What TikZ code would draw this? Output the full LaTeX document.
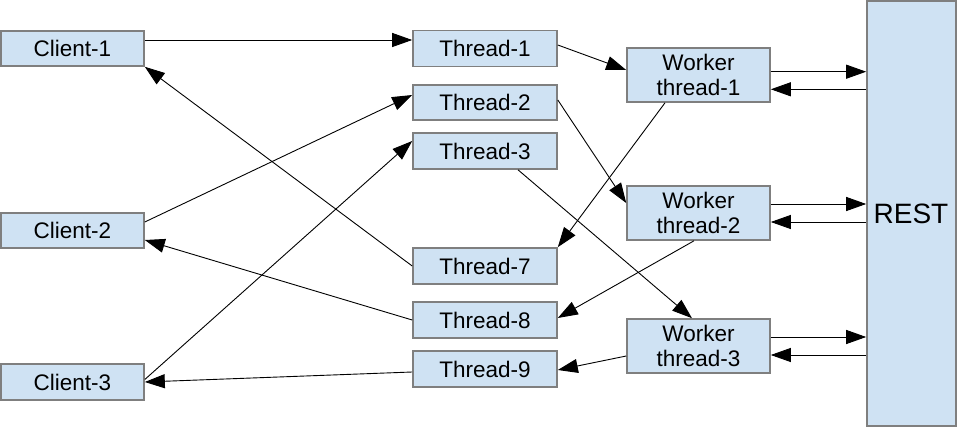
\documentclass[tikz,border=0pt]{standalone}
\usepackage{fontspec}
\setmainfont{Liberation Sans}
\usetikzlibrary{arrows.meta}
\definecolor{boxfill}{HTML}{CFE2F3}
\definecolor{boxline}{HTML}{7F7F7F}
\begin{document}
\begin{tikzpicture}[x=1pt,y=-1pt,
  box/.style={draw=boxline,fill=boxfill,line width=1.6pt,inner sep=0pt,
    font=\fontsize{22.5}{25}\selectfont,align=center},
  cbox/.style={box,minimum width=143pt,minimum height=35pt},
  tbox/.style={box,minimum width=144pt,minimum height=36pt},
  wbox/.style={box,minimum width=143pt,minimum height=54pt},
  conn/.style={line width=0.9pt,-{Triangle[length=20pt,width=14pt]}}]
\useasboundingbox (0,0) rectangle (957,427);
% REST
\node[box,minimum width=89pt,minimum height=425pt] (rest) at (911.5,213.5) {};
\node[font=\fontsize{28}{30}\selectfont,anchor=center] (restlbl) at (911,214) {REST};
% clients
\node[cbox] (c1) at (72.5,48.5) {Client-1};
\node[cbox] (c2) at (72.5,230.5) {Client-2};
\node[cbox,minimum height=36pt] (c3) at (72.5,382) {Client-3};
% threads
\node[tbox] (t1) at (485,48.5) {Thread-1};
\node[tbox,minimum height=35pt] (t2) at (485,102.5) {Thread-2};
\node[tbox] (t3) at (485,151) {Thread-3};
\node[tbox] (t7) at (485,266) {Thread-7};
\node[tbox] (t8) at (485,320) {Thread-8};
\node[tbox] (t9) at (485,369) {Thread-9};
% workers
\node[wbox] (w1) at (698.5,75) {Worker\\thread-1};
\node[wbox] (w2) at (698.5,213) {Worker\\thread-2};
\node[wbox] (w3) at (698.5,346) {Worker\\thread-3};
% client <-> thread
\draw[conn] ([yshift=8.5pt]c1.east) -- ([yshift=8.5pt]t1.west);
\draw[conn] (t7.west) -- (c1.south east);
\draw[conn] ([yshift=8.5pt]c2.east) -- ([yshift=7.5pt]t2.west);
\draw[conn] ([yshift=2.5pt]c3.east) -- ([yshift=10pt]t3.west);
\draw[conn] (t8.west) -- ([yshift=-9.5pt]c2.east);
\draw[conn] ([yshift=-3pt]t9.west) -- (c3.east);
% thread <-> worker
\draw[conn] ([yshift=3.5pt]t1.east) -- ([yshift=5pt]w1.west);
\draw[conn] ([yshift=2.5pt]t2.east) -- ([yshift=10pt]w2.west);
\draw[conn] ([xshift=33pt]t3.south) -- ([xshift=-6.5pt]w3.north);
\draw[conn] ([xshift=-33.5pt]w1.south) -- (t7.north east);
\draw[conn] ([xshift=-4.5pt]w2.south) -- ([yshift=2pt]t8.east);
\draw[conn] ([yshift=-10pt]w3.west) -- ([yshift=-1pt]t9.east);
% worker <-> REST
\coordinate (r1a) at ([yshift=3.3pt]w1.east -| rest.west);
\coordinate (r1b) at ([yshift=-14.3pt]w1.east -| rest.west);
\coordinate (r2a) at ([yshift=9pt]w2.east -| rest.west);
\coordinate (r2b) at ([yshift=-9pt]w2.east -| rest.west);
\coordinate (r3a) at ([yshift=9pt]w3.east -| rest.west);
\coordinate (r3b) at ([yshift=-9pt]w3.east -| rest.west);
\draw[conn] ([yshift=3.3pt]w1.east) -- (r1a);
\draw[conn] (r1b) -- ([yshift=-14.3pt]w1.east);
\draw[conn] ([yshift=9pt]w2.east) -- (r2a);
\draw[conn] (r2b) -- ([yshift=-9pt]w2.east);
\draw[conn] ([yshift=9pt]w3.east) -- (r3a);
\draw[conn] (r3b) -- ([yshift=-9pt]w3.east);
\end{tikzpicture}
\end{document}
